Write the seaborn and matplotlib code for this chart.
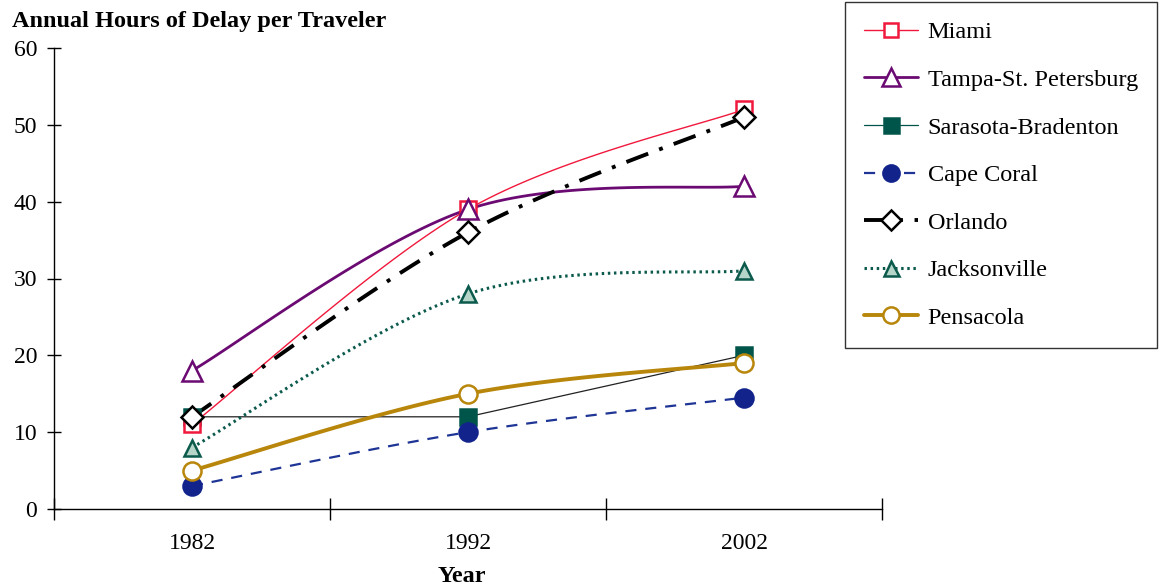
import matplotlib
matplotlib.use("Agg")
import matplotlib.pyplot as plt
from matplotlib.lines import Line2D
import seaborn as sns
import numpy as np

years = ["1982", "1992", "2002"]

miami = [11, 39, 52]
tampa = [18, 39, 42]
sarasota = [12, 12, 20]
cape_coral = [3, 10, 14.5]
orlando = [12, 36, 51]
jacksonville = [8, 28, 31]
pensacola = [5, 15, 19]

names = ["Miami", "Tampa-St. Petersburg", "Sarasota-Bradenton", "Cape Coral",
         "Orlando", "Jacksonville", "Pensacola"]
values = [miami, tampa, sarasota, cape_coral, orlando, jacksonville, pensacola]


def smooth(y, n=40):
    # Excel-style smoothed line (Catmull-Rom as cubic Bezier) through the points
    x = np.arange(len(y), dtype=float)
    y = np.asarray(y, dtype=float)
    px = np.concatenate([[x[0]], x, [x[-1]]])
    py = np.concatenate([[y[0]], y, [y[-1]]])
    xs, ys = [], []
    t = np.linspace(0, 1, n)
    for i in range(len(x) - 1):
        p0 = np.array([px[i + 1], py[i + 1]])
        p3 = np.array([px[i + 2], py[i + 2]])
        b1 = p0 + (p3 - np.array([px[i], py[i]])) / 6
        b2 = p3 - (np.array([px[i + 3], py[i + 3]]) - p0) / 6
        pts = ((1 - t) ** 3)[:, None] * p0 + (3 * (1 - t) ** 2 * t)[:, None] * b1 \
            + (3 * (1 - t) * t ** 2)[:, None] * b2 + (t ** 3)[:, None] * p3
        xs.extend(pts[:, 0])
        ys.extend(pts[:, 1])
    return np.array(xs), np.array(ys)


styles = {
    "Miami": dict(color="#f0183c", lw=1.0, ls="-", marker="s", mfc="white", mec="#f0183c", ms=11, smooth=True, z=3),
    "Tampa-St. Petersburg": dict(color="#6b0a72", lw=2.0, ls="-", marker="^", mfc="white", mec="#6b0a72", ms=15, smooth=True, z=3),
    "Sarasota-Bradenton": dict(color="#222222", lw=0.9, ls="-", marker="s", mfc="#00554a", mec="#00554a", ms=12, smooth=False, z=2, legend_color="#00554a"),
    "Cape Coral": dict(color="#1e3596", lw=1.6, ls=(0, (5, 4)), marker="o", mfc="#12248c", mec="#12248c", ms=13, smooth=True, z=2),
    "Orlando": dict(color="black", lw=2.8, ls=(0, (6, 3, 1, 3)), marker="D", mfc="white", mec="black", ms=11, smooth=True, z=4),
    "Jacksonville": dict(color="#0b5a4c", lw=2.2, ls=(0, (0.8, 1.2)), marker="^", mfc="#b6d6ca", mec="#0b5a4c", ms=12, smooth=True, z=2),
    "Pensacola": dict(color="#b8860b", lw=2.8, ls="-", marker="o", mfc="white", mec="#b8860b", ms=13, smooth=True, z=3),
}

sns.set_style("white")
plt.rcParams["font.family"] = ["Liberation Serif", "DejaVu Serif"]
plt.rcParams["text.color"] = "black"
plt.rcParams["xtick.color"] = "black"
plt.rcParams["ytick.color"] = "black"

fig = plt.figure(figsize=(11.65, 5.88), dpi=100)
ax = fig.add_axes([54 / 1165, 1 - 509 / 588, (882 - 54) / 1165, (509 - 48) / 588])

handles = []
for name, vals in zip(names, values):
    st = styles[name]
    if st["smooth"]:
        xs, ys = smooth(vals)
    else:
        xs, ys = np.arange(len(vals)), np.asarray(vals, dtype=float)
    sns.lineplot(x=xs, y=ys, ax=ax, color=st["color"], lw=st["lw"], sort=False,
                 estimator=None, zorder=st["z"])
    ax.lines[-1].set_linestyle(st["ls"])
    ax.plot(range(len(vals)), vals, ls="none", marker=st["marker"], ms=st["ms"],
            mfc=st["mfc"], mec=st["mec"], mew=1.8, zorder=st["z"] + 5)
    handles.append(Line2D([], [], color=st.get("legend_color", st["color"]), lw=st["lw"],
                          ls=st["ls"], marker=st["marker"], ms=st["ms"] * 0.9,
                          mfc=st["mfc"], mec=st["mec"], mew=1.8))

ax.set_xlim(-0.5, 2.5)
ax.set_ylim(0, 60)
ax.set_yticks(range(0, 61, 10))
ax.set_xticks(range(3))
ax.set_xticklabels(years)
ax.set_xticks([-0.5, 0.5, 1.5, 2.5], minor=True)
ax.tick_params(axis="x", which="major", bottom=True, length=0, pad=17, labelsize=17)
ax.tick_params(axis="x", which="minor", bottom=True, direction="inout", length=16, width=1)
ax.tick_params(axis="y", left=True, direction="inout", length=10, width=1, labelsize=17, pad=7)
for s in ["top", "right"]:
    ax.spines[s].set_visible(False)
for s in ["left", "bottom"]:
    ax.spines[s].set_color("black")
    ax.spines[s].set_linewidth(1)
ax.set_xlabel("")
ax.set_ylabel("")

fig.text(12 / 1165, 1 - 22 / 588, "Annual Hours of Delay per Traveler", fontsize=17.5,
         fontweight="bold", va="center", ha="left")
fig.text(462 / 1165, 1 - 577 / 588, "Year", fontsize=17.5, fontweight="bold",
         va="center", ha="center")

leg = fig.legend(handles, names, loc="upper left", bbox_to_anchor=(845 / 1165, 1 - 2 / 588),
                 fontsize=17.5, frameon=True, fancybox=False, edgecolor="black",
                 handlelength=2.2, labelspacing=1.05, borderpad=0.8, handletextpad=0.4,
                 borderaxespad=0)
leg.get_frame().set_linewidth(1)

fig.savefig("out.png", dpi=100)
